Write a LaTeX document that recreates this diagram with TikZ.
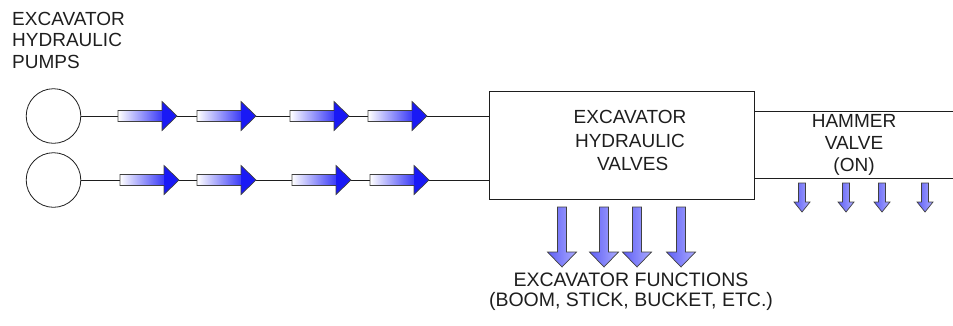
\documentclass[tikz,border=0pt]{standalone}
\usepackage{fontspec}
\setmainfont{Liberation Sans}
\definecolor{hblue}{RGB}{25,25,245}
\definecolor{vdark}{RGB}{95,95,245}
\definecolor{vlight}{RGB}{170,170,255}
\definecolor{ink}{RGB}{30,30,30}
\newcommand\rarrow[2]{%
  \shade[left color=white, right color=hblue!85!white] (#1,{#2-5.5}) rectangle ({#1+44},{#2+5.5});
  \fill[hblue] ({#1+44},{#2-14.5}) -- ({#1+59},#2) -- ({#1+44},{#2+14.5}) -- cycle;
  \draw[aout] (#1,{#2-5.5}) -- ({#1+44},{#2-5.5}) -- ({#1+44},{#2-14.5}) -- ({#1+59},#2)
     -- ({#1+44},{#2+14.5}) -- ({#1+44},{#2+5.5}) -- (#1,{#2+5.5}) -- cycle;}
\newcommand\darrow[6]{%
  \shade[left color=vdark, right color=vlight] ({#1-#5},#2) -- ({#1+#5},#2) -- ({#1+#5},#3) -- ({#1+#6},#3)
     -- (#1,#4) -- ({#1-#6},#3) -- ({#1-#5},#3) -- cycle;
  \draw[aout] ({#1-#5},#2) -- ({#1+#5},#2) -- ({#1+#5},#3) -- ({#1+#6},#3)
     -- (#1,#4) -- ({#1-#6},#3) -- ({#1-#5},#3) -- cycle;}
\begin{document}
\begin{tikzpicture}[x=1pt,y=-1pt,
  lbl/.style={font=\fontsize{19}{21.5}\selectfont, inner sep=0pt, text=ink},
  ln/.style={line width=0.9pt, draw=ink},
  pump/.style={circle, draw=ink, line width=0.8pt, minimum size=54.6pt, inner sep=0pt},
  valvebox/.style={draw=ink, line width=0.9pt, minimum width=265pt, minimum height=108pt, inner sep=0pt},
  aout/.style={draw=black!75, line width=0.7pt, line join=miter}]
\useasboundingbox (0,0) rectangle (953,325);
% pumps
\node[pump] (p1) at (53.5,116) {};
\node[pump] (p2) at (53.5,180) {};
% valves box
\node[valvebox] (valves) at (621.5,145) {};
% connectors
\draw[ln] (p1.east) -- (p1.east -| valves.west);
\draw[ln] (p2.east) -- (p2.east -| valves.west);
\coordinate (h1) at (953,111.7);
\coordinate (h2) at (953,178);
\draw[ln] (valves.east |- h1) -- (h1);
\draw[ln] (valves.east |- h2) -- (h2);
% flow arrows
\foreach \x in {118,197,290,368} {\rarrow{\x}{116}}
\foreach \x in {120,197,292,370} {\rarrow{\x}{180}}
\foreach \x in {562,604,637,681} {\darrow{\x}{207}{252}{267}{4.5}{14.5}}
\foreach \x in {802,846,882,925} {\darrow{\x}{183}{202}{212}{3.5}{8}}
% labels (anchor = baseline of last line)
\node[lbl, align=left, anchor=base west] (tpumps) at (12,68) {EXCAVATOR\\HYDRAULIC\\PUMPS};
\node[lbl, align=center, anchor=base, font=\fontsize{19}{23.5}\selectfont] (tvalves) at (630,170.5) {EXCAVATOR\\HYDRAULIC\\\ VALVES};
\node[lbl, align=center, anchor=base, font=\fontsize{19}{22}\selectfont] (thammer) at (854,171) {HAMMER\\VALVE\\(ON)};
\node[lbl, align=center, anchor=base, font=\fontsize{19.5}{20}\selectfont] (tfunc) at (631,306) {EXCAVATOR FUNCTIONS\\(BOOM, STICK, BUCKET, ETC.)};
\end{tikzpicture}
\end{document}
